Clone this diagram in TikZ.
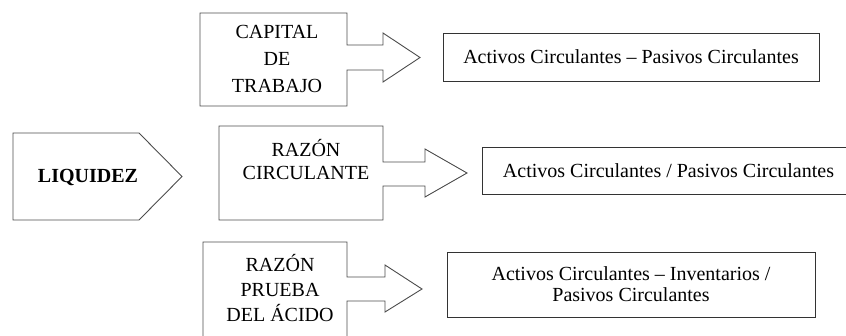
\documentclass[tikz,border=0pt]{standalone}
\usepackage{fontspec}
\setmainfont{Liberation Serif}
\usetikzlibrary{positioning}

\begin{document}
\begin{tikzpicture}[
				x=1pt, y=-1pt,
				every node/.style = {inner sep=0pt, outer sep=0pt, align=center, font=\fontsize{20}{25}\selectfont},
				resbox/.style = {draw=black!80, line width=0.9pt},
				outl/.style = {draw=black!70, line width=0.9pt}
			]
				\useasboundingbox (0,0) rectangle (846,335);
				\clip (0,0) rectangle (846,335);
				%
				\node (liq) at (88,177) {\bfseries LIQUIDEZ};
				\draw[outl] (13,133) -- (139,133) -- (182,176.5) -- (139,220) -- (13,220) -- cycle;
				%
				\node (cap) [font=\fontsize{20}{27}\selectfont] at (277,59) {CAPITAL\\DE\\TRABAJO};
				\draw[outl] (347,45) -- (347,13) -- (200,13) -- (200,106) -- (347,106) -- (347,70)
					-- (383,70) -- (383,82) -- (420,57.5) -- (383,33) -- (383,45) -- cycle;
				%
				\node (circ) [font=\fontsize{20}{23}\selectfont] at (306,160) {RAZÓN\\CIRCULANTE};
				\draw[outl] (383,162) -- (383,126) -- (219,126) -- (219,220) -- (383,220) -- (383,186)
					-- (425,186) -- (425,197) -- (467,173) -- (425,149) -- (425,162) -- cycle;
				%
				\node (acid) at (280,288) {RAZÓN\\PRUEBA\\DEL ÁCIDO};
				\draw[outl] (347,277) -- (347,242) -- (203,242) -- (203,350) -- (347,350) -- (347,301)
					-- (385,301) -- (385,312) -- (422,289) -- (385,265) -- (385,277) -- cycle;
				%
				\node (r1) [resbox, minimum width=376, minimum height=48] at (631,57)
					{Activos Circulantes – Pasivos Circulantes};
				\node (r2) [resbox, minimum width=373, minimum height=47] at (668.5,170.5)
					{Activos Circulantes / Pasivos Circulantes};
				\node (r3) [resbox, minimum width=368, minimum height=65, font=\fontsize{20}{21}\selectfont] at (631,284.5)
					{Activos Circulantes – Inventarios /\\Pasivos Circulantes};

			\end{tikzpicture}
\end{document}
